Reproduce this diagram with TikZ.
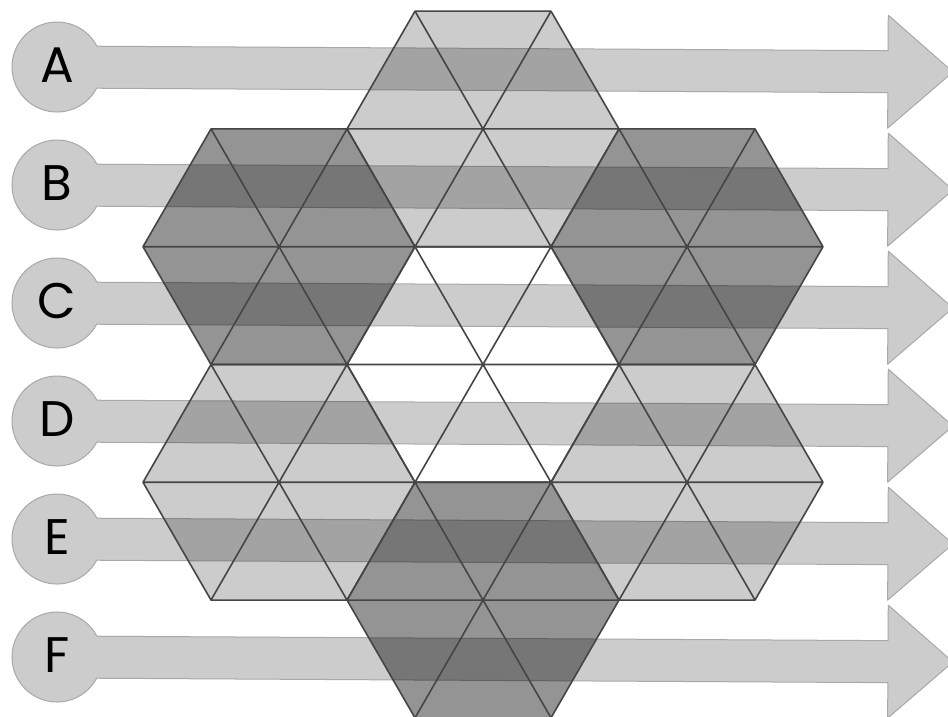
\documentclass[tikz,border=0pt]{standalone}
\usepackage{fontspec}
\setmainfont{Poppins}
\definecolor{bandgray}{HTML}{CCCCCC}
\definecolor{edgegray}{HTML}{A8A8A8}
\definecolor{linegray}{HTML}{454545}
\begin{document}
\begin{tikzpicture}[x=1pt,y=-1pt,
  arrowshape/.style={fill=bandgray, draw=edgegray, line width=1pt, line join=round},
  hexlight/.style={fill=black, fill opacity=0.2},
  hexdark/.style={fill=black, fill opacity=0.42},
  gridline/.style={draw=linegray, line width=1.6pt, line join=round},
  letter/.style={font=\fontsize{50}{50}\selectfont, text=black, inner sep=0pt}]
\useasboundingbox (0,0) rectangle (948,717);
% arrows
\foreach \L [count=\i from 0] in {A,B,C,D,E,F} {
  \begin{scope}[shift={(57,67+118*\i)}, rotate=-0.32]
    \draw[arrowshape] (39.8,-21) -- (831,-21) -- (831,-56.5) -- (896,0) -- (831,56.5) -- (831,21) -- (39.8,21) arc[start angle=27.8, end angle=332.2, radius=45] -- cycle;
  \end{scope}
  \node[letter] (l\L) at (57,65+118*\i) {\L};
}
% hexagon fills
\def\s{136}
\foreach \cx/\cy/\sty in {483/128.94/hexlight, 279/246.72/hexdark, 687/246.72/hexdark, 279/482.28/hexlight, 687/482.28/hexlight, 483/600.06/hexdark} {
  \begin{scope}[shift={(\cx,\cy)}]
    \fill[\sty] (0:\s) -- (60:\s) -- (120:\s) -- (180:\s) -- (240:\s) -- (300:\s) -- cycle;
  \end{scope}
}
% hexagon lines
\foreach \cx/\cy in {483/364.5, 483/128.94, 279/246.72, 687/246.72, 279/482.28, 687/482.28, 483/600.06} {
  \begin{scope}[shift={(\cx,\cy)}]
    \draw[gridline] (0:\s) -- (60:\s) -- (120:\s) -- (180:\s) -- (240:\s) -- (300:\s) -- cycle
      (0:\s) -- (180:\s) (60:\s) -- (240:\s) (120:\s) -- (300:\s);
  \end{scope}
}
\end{tikzpicture}
\end{document}
